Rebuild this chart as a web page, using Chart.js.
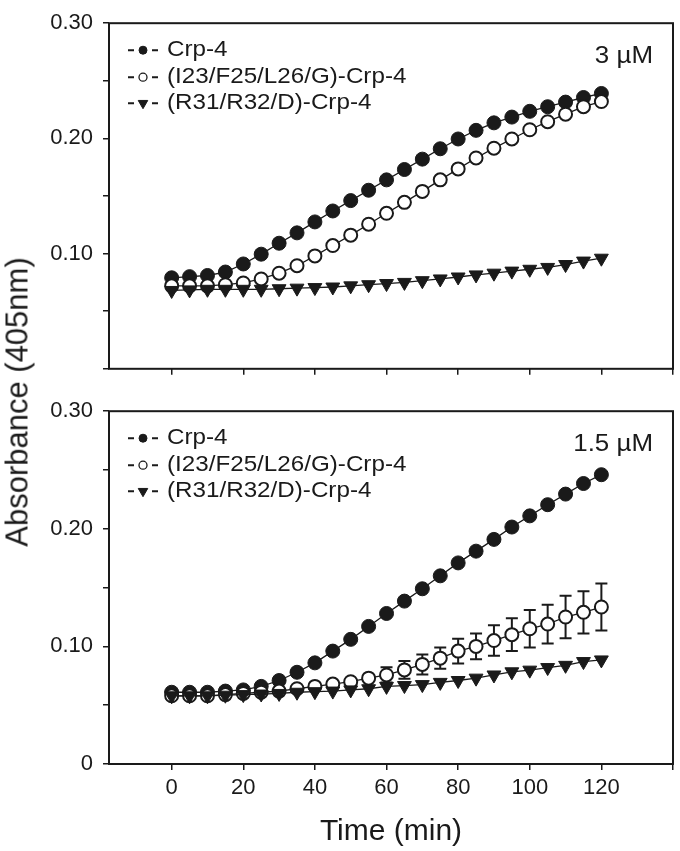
<!DOCTYPE html>
<html>
<head>
<meta charset="utf-8">
<script src="https://cdn.jsdelivr.net/npm/chart.js@4.4.1/dist/chart.umd.min.js"></script>
<style>
  html, body { margin:0; padding:0; background:#fff; }
  body { width:680px; height:851px; position:relative; overflow:hidden; font-family:"Liberation Sans", Arial, sans-serif; }
  #c1 { position:absolute; left:0; top:0; }
  #c2 { position:absolute; left:0; top:388px; }
  #ytitle { position:absolute; left:17px; top:402px; transform:translate(-50%,-50%) rotate(-90deg);
            font-size:31px; white-space:nowrap; color:#1a1a1a; line-height:1; }
</style>
</head>
<body>
<canvas id="c1" width="680" height="392"></canvas>
<canvas id="c2" width="680" height="463"></canvas>
<div id="ytitle"></div>
<script>
// ---------------- data ----------------
const time = [0,5,10,15,20,25,30,35,40,45,50,55,60,65,70,75,80,85,90,95,100,105,110,115,120];
const seriesNames = ['Crp-4', '(I23/F25/L26/G)-Crp-4', '(R31/R32/D)-Crp-4'];
const concLabels = ['3 µM', '1.5 µM'];

// 3 µM panel
const top_crp4 = [0.079,0.080,0.081,0.084,0.091,0.0995,0.109,0.118,0.1275,0.137,0.146,0.155,0.164,0.173,0.182,0.191,0.1995,0.207,0.2135,0.2185,0.2235,0.2275,0.2315,0.2355,0.239];
const top_mutA = [0.072,0.072,0.072,0.073,0.0745,0.078,0.083,0.0895,0.098,0.107,0.116,0.1255,0.135,0.1445,0.154,0.164,0.1735,0.183,0.1915,0.1995,0.2075,0.2145,0.221,0.2275,0.232];
const top_mutB = [0.068,0.0685,0.069,0.069,0.069,0.069,0.0695,0.070,0.0705,0.071,0.072,0.073,0.074,0.075,0.0765,0.078,0.0797,0.0815,0.083,0.0848,0.0864,0.088,0.0905,0.0935,0.096];

// 1.5 µM panel
const bot_crp4 = [0.061,0.061,0.061,0.062,0.063,0.066,0.071,0.078,0.086,0.096,0.106,0.117,0.128,0.1385,0.149,0.160,0.171,0.181,0.191,0.2015,0.211,0.2205,0.2295,0.2385,0.246];
const bot_mutA = [0.058,0.058,0.058,0.059,0.060,0.061,0.062,0.064,0.066,0.068,0.070,0.073,0.0757,0.080,0.0847,0.090,0.096,0.100,0.105,0.110,0.115,0.119,0.125,0.129,0.1335];
const bot_mutA_err = [0.001,0.001,0.001,0.001,0.001,0.0015,0.002,0.002,0.003,0.003,0.004,0.005,0.0065,0.0075,0.0085,0.009,0.0105,0.011,0.013,0.014,0.016,0.0165,0.018,0.018,0.020];
const bot_mutB = [0.058,0.058,0.058,0.0585,0.059,0.0595,0.060,0.061,0.0615,0.062,0.063,0.064,0.066,0.0667,0.0675,0.0694,0.071,0.073,0.0757,0.0784,0.0798,0.082,0.0839,0.0871,0.0885];

// ticks / titles
const xTickValues = [0,20,40,60,80,100,120,140];
const xTickLabels = ['0','20','40','60','80','100','120',''];
const yTickValues = [0,0.05,0.10,0.15,0.20,0.25,0.30];
const yTickLabelsTop = ['','','0.10','','0.20','','0.30'];
const yTickLabelsBottom = ['0','','0.10','','0.20','','0.30'];
const xTitle = 'Time (min)';
const yTitle = 'Absorbance (405nm)';

// ---------------- styling ----------------
const FONT = '"Liberation Sans", Arial, Helvetica, sans-serif';
const INK = '#1a1a1a';
const markerStyles = [
  { pointStyle:'circle',   radius:7,   bg:INK,    border:INK, bw:1,   rot:0,   order:3, legR:4 },
  { pointStyle:'circle',   radius:6.5, bg:'#fff', border:INK, bw:2,   rot:0,   order:2, legR:4 },
  { pointStyle:'triangle', radius:8,   bg:INK,    border:INK, bw:1,   rot:180, order:1, legR:5.5 }
];

document.getElementById('ytitle').textContent = yTitle;

function makeDatasets(seriesList) {
  return seriesList.map((arr, k) => {
    const s = markerStyles[k];
    return {
      label: seriesNames[k],
      data: time.map((t, i) => ({ x: t, y: arr[i] })),
      showLine: true, fill: false, tension: 0,
      borderColor: INK, borderWidth: 1.3,
      pointStyle: s.pointStyle, pointRadius: s.radius, pointHoverRadius: s.radius,
      pointBackgroundColor: s.bg, pointBorderColor: s.border, pointBorderWidth: s.bw,
      pointRotation: s.rot, order: s.order
    };
  });
}

function stretchedText(ctx, text, x, y, sx) {
  ctx.save();
  ctx.translate(x, y);
  ctx.scale(sx, 1);
  ctx.fillText(text, 0, 0);
  ctx.restore();
}

const deco = {
  id: 'deco',
  beforeDatasetsDraw(chart, args, opts) {
    const { ctx, scales } = chart;
    if (opts.errors) {
      const { values, err } = opts.errors;
      ctx.save();
      ctx.strokeStyle = INK; ctx.lineWidth = 2;
      time.forEach((t, i) => {
        const x = scales.x.getPixelForValue(t);
        const y1 = scales.y.getPixelForValue(values[i] + err[i]);
        const y2 = scales.y.getPixelForValue(values[i] - err[i]);
        if ((y2 - y1) / 2 <= 6.5) return;
        ctx.beginPath();
        ctx.moveTo(x, y1); ctx.lineTo(x, y2);
        ctx.moveTo(x - 6, y1); ctx.lineTo(x + 6, y1);
        ctx.moveTo(x - 6, y2); ctx.lineTo(x + 6, y2);
        ctx.stroke();
      });
      ctx.restore();
    }
  },
  afterDraw(chart, args, opts) {
    const { ctx, chartArea: a } = chart;
    ctx.save();
    // frame
    ctx.strokeStyle = INK; ctx.lineWidth = 2;
    ctx.strokeRect(a.left, a.top, a.right - a.left, a.bottom - a.top);
    // legend
    const lx = a.left + 19;
    const rows = [26, 53, 79];
    chart.data.datasets.forEach((ds, k) => {
      const s = markerStyles[k];
      const y = a.top + rows[k];
      ctx.strokeStyle = INK; ctx.lineWidth = 2;
      ctx.beginPath();
      ctx.moveTo(lx, y + 1); ctx.lineTo(lx + 6, y + 1);
      ctx.moveTo(lx + 24, y + 1); ctx.lineTo(lx + 30, y + 1);
      ctx.stroke();
      ctx.fillStyle = s.bg; ctx.strokeStyle = s.border; ctx.lineWidth = k === 1 ? 1.3 : 1;
      Chart.helpers.drawPoint(ctx, { pointStyle: s.pointStyle, radius: s.legR, rotation: s.rot, borderWidth: ctx.lineWidth }, lx + 15, y + 1);
      ctx.fillStyle = INK;
      ctx.font = '22px ' + FONT;
      ctx.textAlign = 'left'; ctx.textBaseline = 'middle';
      stretchedText(ctx, ds.label, lx + 39, y + 1, 1.1);
    });
    // concentration
    ctx.fillStyle = INK;
    ctx.font = '24px ' + FONT;
    ctx.textAlign = 'right'; ctx.textBaseline = 'middle';
    stretchedText(ctx, opts.conc, a.right - 20, a.top + 33, 1.08);
    ctx.restore();
  }
};

function makeChart(canvasId, seriesList, opts) {
  const H = document.getElementById(canvasId).height;
  return new Chart(document.getElementById(canvasId), {
    type: 'scatter',
    data: { datasets: makeDatasets(seriesList) },
    plugins: [deco],
    options: {
      responsive: false, animation: false, events: [],
      layout: { autoPadding: false, padding: { top: 10, right: 7, bottom: 0, left: 0 } },
      plugins: {
        legend: { display: false }, tooltip: { enabled: false },
        deco: { conc: opts.conc, errors: opts.errors || null }
      },
      scales: {
        x: {
          type: 'linear', min: -17.5, max: 140,
          afterBuildTicks: sc => { sc.ticks = xTickValues.map(v => ({ value: v })); },
          afterFit: sc => { sc.height = H - opts.areaBottom; },
          ticks: { callback: (v, i) => opts.showX ? xTickLabels[i] : '', font: { family: FONT, size: 22 }, color: INK, padding: 5, maxRotation: 0, autoSkip: false },
          grid: { display: true, drawOnChartArea: false, drawTicks: true, tickLength: 6, color: INK, lineWidth: 1.5 },
          border: { display: false },
          title: { display: !!opts.showX, text: xTitle, font: { family: FONT, size: 30 }, color: INK, padding: { top: 0, bottom: 1 } }
        },
        y: {
          min: 0, max: 0.30,
          afterBuildTicks: sc => { sc.ticks = yTickValues.map(v => ({ value: v })); },
          afterFit: sc => { sc.width = 109; },
          ticks: { callback: (v, i) => opts.yLabels[i], font: { family: FONT, size: 22 }, color: INK, padding: 10, autoSkip: false },
          grid: { display: true, drawOnChartArea: false, drawTicks: true, tickLength: 6, color: INK, lineWidth: 1.5 },
          border: { display: false }
        }
      }
    }
  });
}

makeChart('c1', [top_crp4, top_mutA, top_mutB], { conc: concLabels[0], yLabels: yTickLabelsTop, showX: false, areaBottom: 378 });
makeChart('c2', [bot_crp4, bot_mutA, bot_mutB], { conc: concLabels[1], yLabels: yTickLabelsBottom, showX: true, areaBottom: 376,
  errors: { values: bot_mutA, err: bot_mutA_err } });
</script>
</body>
</html>
